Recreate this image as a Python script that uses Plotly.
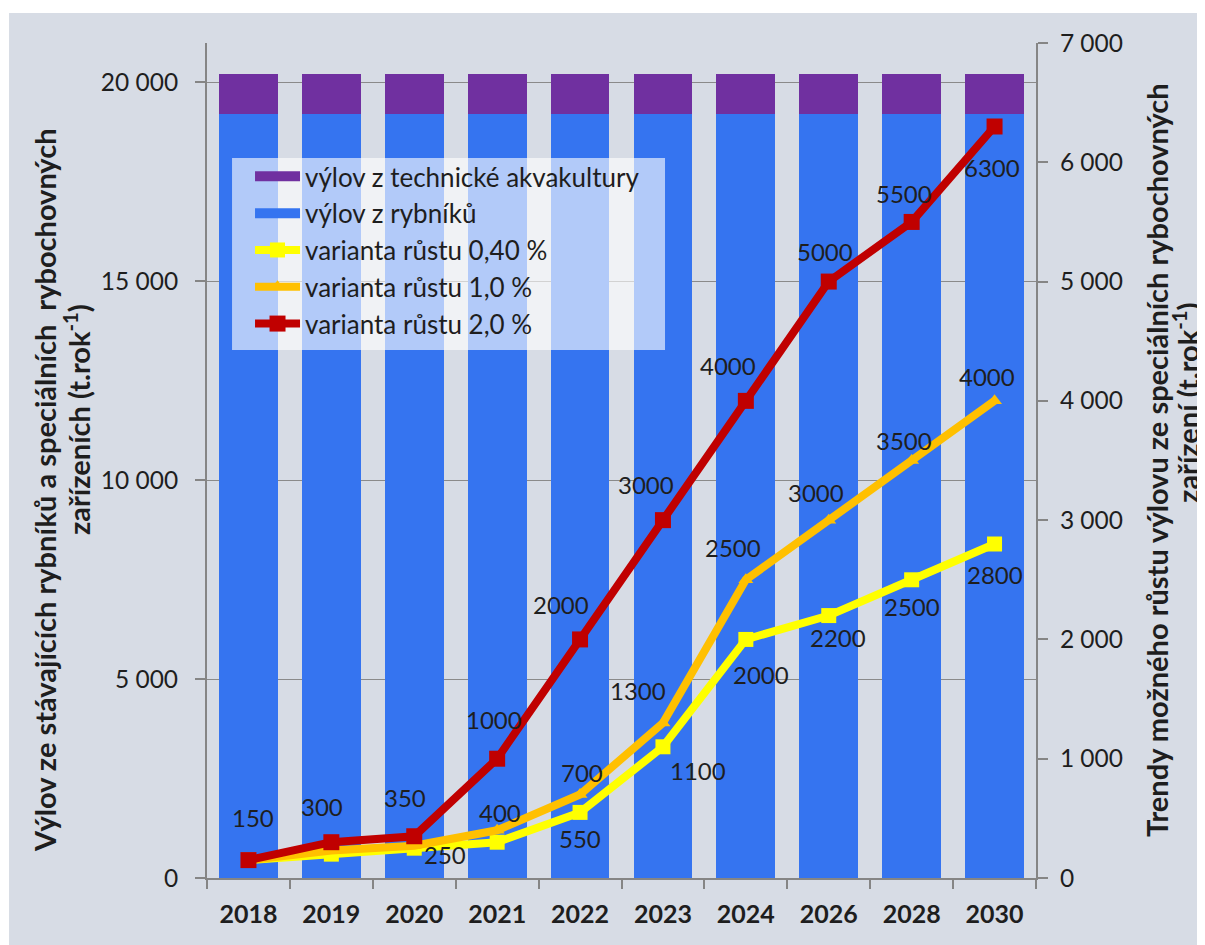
import plotly.graph_objects as go

# ---------------- data ----------------
years = ["2018", "2019", "2020", "2021", "2022", "2023", "2024", "2026", "2028", "2030"]
vylov_rybniky = [19200, 19200, 19200, 19200, 19200, 19200, 19200, 19200, 19200, 19200]
vylov_technicke = [1000, 1000, 1000, 1000, 1000, 1000, 1000, 1000, 1000, 1000]
varianta_040 = [150, 200, 250, 300, 550, 1100, 2000, 2200, 2500, 2800]
varianta_10 = [150, 230, 270, 400, 700, 1300, 2500, 3000, 3500, 4000]
varianta_20 = [150, 300, 350, 1000, 2000, 3000, 4000, 5000, 5500, 6300]

left_ticks = [0, 5000, 10000, 15000, 20000]
left_ticktext = ["0", "5 000", "10 000", "15 000", "20 000"]
right_ticks = [0, 1000, 2000, 3000, 4000, 5000, 6000, 7000]
right_ticktext = ["0", "1 000", "2 000", "3 000", "4 000", "5 000", "6 000", "7 000"]

names = ["výlov z technické akvakultury", "výlov z rybníků",
         "varianta růstu 0,40 %", "varianta růstu 1,0 %", "varianta růstu 2,0 %"]

left_title = ["Výlov ze stávajících rybníků a speciálních  rybochovných",
              "zařízeních (t.rok<sup>-1</sup>)"]
right_title = ["Trendy možného růstu výlovu ze speciálních rybochovných",
               "zařízení (t.rok<sup>-1</sup>)"]

# which points carry a data label, and label pixel offsets (style)
labels_040 = {2: (31, 6), 4: (0, 26), 5: (35, 24), 6: (15, 35), 7: (9, 22), 8: (0, 27), 9: (0, 30)}
labels_10 = {3: (3, -18), 4: (2, -22), 5: (-25, -32), 6: (-13, -32), 7: (-13, -28), 8: (-8, -20), 9: (-8, -24)}
labels_20 = {0: (5, -43), 1: (-9, -36), 2: (-9, -39), 3: (-3, -39), 4: (-19, -35), 5: (-17, -36),
             6: (-18, -35), 7: (-4, -30), 8: (-8, -28), 9: (-3, 41)}

FONT = "Lato"
BG = "#d7dce5"
AXIS = "#858585"
TXT = "#1e1e1e"
BLUE = "#3574f0"
PURPLE = "#7030a0"

xs = list(range(len(years)))           # category slots on the x axis
bounds = [i - 0.5 for i in range(len(years) + 1)]

fig = go.Figure()

fig.add_trace(go.Bar(x=xs, y=vylov_rybniky, name=names[1], marker_color=BLUE,
                     marker_line_width=0, width=0.71, showlegend=False))
fig.add_trace(go.Bar(x=xs, y=vylov_technicke, name=names[0], marker_color=PURPLE,
                     marker_line_width=0, width=0.71, showlegend=False))

# legend swatches for the bar series (wide rectangles as in the reference)
for nm, col, rank, grp in [(names[0], PURPLE, 1, "a"), (names[1], BLUE, 2, "b")]:
    fig.add_trace(go.Scatter(x=[None], y=[None], name=nm, mode="lines",
                             line=dict(color=col, width=15), legendrank=rank, legendgroup=grp))

line_specs = [
    (varianta_040, names[2], "#ffff00", "square", 15, 3, "c"),
    (varianta_10, names[3], "#ffc000", "triangle-up", 13, 4, "d"),
    (varianta_20, names[4], "#c00000", "square", 16, 5, "e"),
]
for vals, nm, col, sym, msz, rank, grp in line_specs:
    fig.add_trace(go.Scatter(x=xs, y=vals, name=nm, yaxis="y2", mode="lines+markers",
                             line=dict(color=col, width=8),
                             marker=dict(symbol=sym, size=msz, color=col),
                             legendrank=rank, legendgroup=grp))

annotations = []
for vals, labs in [(varianta_040, labels_040), (varianta_10, labels_10), (varianta_20, labels_20)]:
    for i, (dx, dy) in labs.items():
        annotations.append(dict(x=xs[i], y=vals[i], xref="x", yref="y2", text=str(vals[i]),
                                showarrow=False, xshift=dx, yshift=-dy,
                                font=dict(family=FONT, size=24, color=TXT)))

title_font = dict(family=FONT, size=29, color=TXT, weight="bold")
for txt, px, py in [(left_title[0], -0.1954, 0.4647), (left_title[1], -0.1568, 0.5485),
                    (right_title[0], 1.1460, 0.5006), (right_title[1], 1.1809, 0.5689)]:
    annotations.append(dict(text=txt, x=px, y=py, xref="paper", yref="paper", showarrow=False,
                            textangle=-90, xanchor="center", yanchor="middle", font=title_font))

fig.update_layout(
    width=1205, height=945,
    paper_bgcolor="white", plot_bgcolor=BG,
    margin=dict(l=199, r=177, t=35, b=75),
    barmode="stack",
    font=dict(family=FONT, size=24, color=TXT),
    showlegend=True,
    legend=dict(x=0.0519, y=0.8683, xanchor="left", yanchor="top",
                bgcolor="rgba(0,0,0,0)", borderwidth=0,
                font=dict(family=FONT, size=26, color=TXT),
                traceorder="grouped", tracegroupgap=0, itemwidth=45),
    xaxis=dict(range=[-0.5, len(years) - 0.5], tickvals=xs, ticktext=years, ticks="",
               showline=True, linecolor=AXIS, linewidth=2, ticklabelstandoff=13,
               minor=dict(tickvals=bounds, ticks="outside", ticklen=9, tickcolor=AXIS, tickwidth=2,
                          showgrid=False),
               tickfont=dict(family=FONT, size=25, color=TXT, weight="bold"),
               showgrid=False, zeroline=False),
    yaxis=dict(range=[0, 20980], tickvals=left_ticks, ticktext=left_ticktext,
               showline=True, linecolor=AXIS, linewidth=2, ticks="outside", ticklen=10,
               ticklabelstandoff=12,
               tickcolor=AXIS, tickwidth=2, showgrid=True, gridcolor="#8a8a8a", gridwidth=1,
               zeroline=False, tickfont=dict(family=FONT, size=24.5, color=TXT)),
    yaxis2=dict(range=[0, 7000], overlaying="y", side="right", tickvals=right_ticks,
                ticktext=right_ticktext, showline=True, linecolor=AXIS, linewidth=2,
                ticks="outside", ticklen=10, tickcolor=AXIS, tickwidth=2, showgrid=False,
                ticklabelstandoff=7,
                zeroline=False, tickfont=dict(family=FONT, size=24.5, color=TXT)),
    annotations=annotations,
    shapes=[
        dict(type="rect", xref="paper", yref="paper", x0=-0.2388, x1=1.25, y0=-0.12, y1=1.0359,
             fillcolor=BG, line_width=0, layer="below"),
        # translucent legend panel
        dict(type="rect", xref="paper", yref="paper", x0=0.0302, x1=0.5525, y0=0.6323, y1=0.8623,
             fillcolor="rgba(255,255,255,0.62)", line_width=0, layer="above"),
    ],
)

fig.write_html("out.html")
